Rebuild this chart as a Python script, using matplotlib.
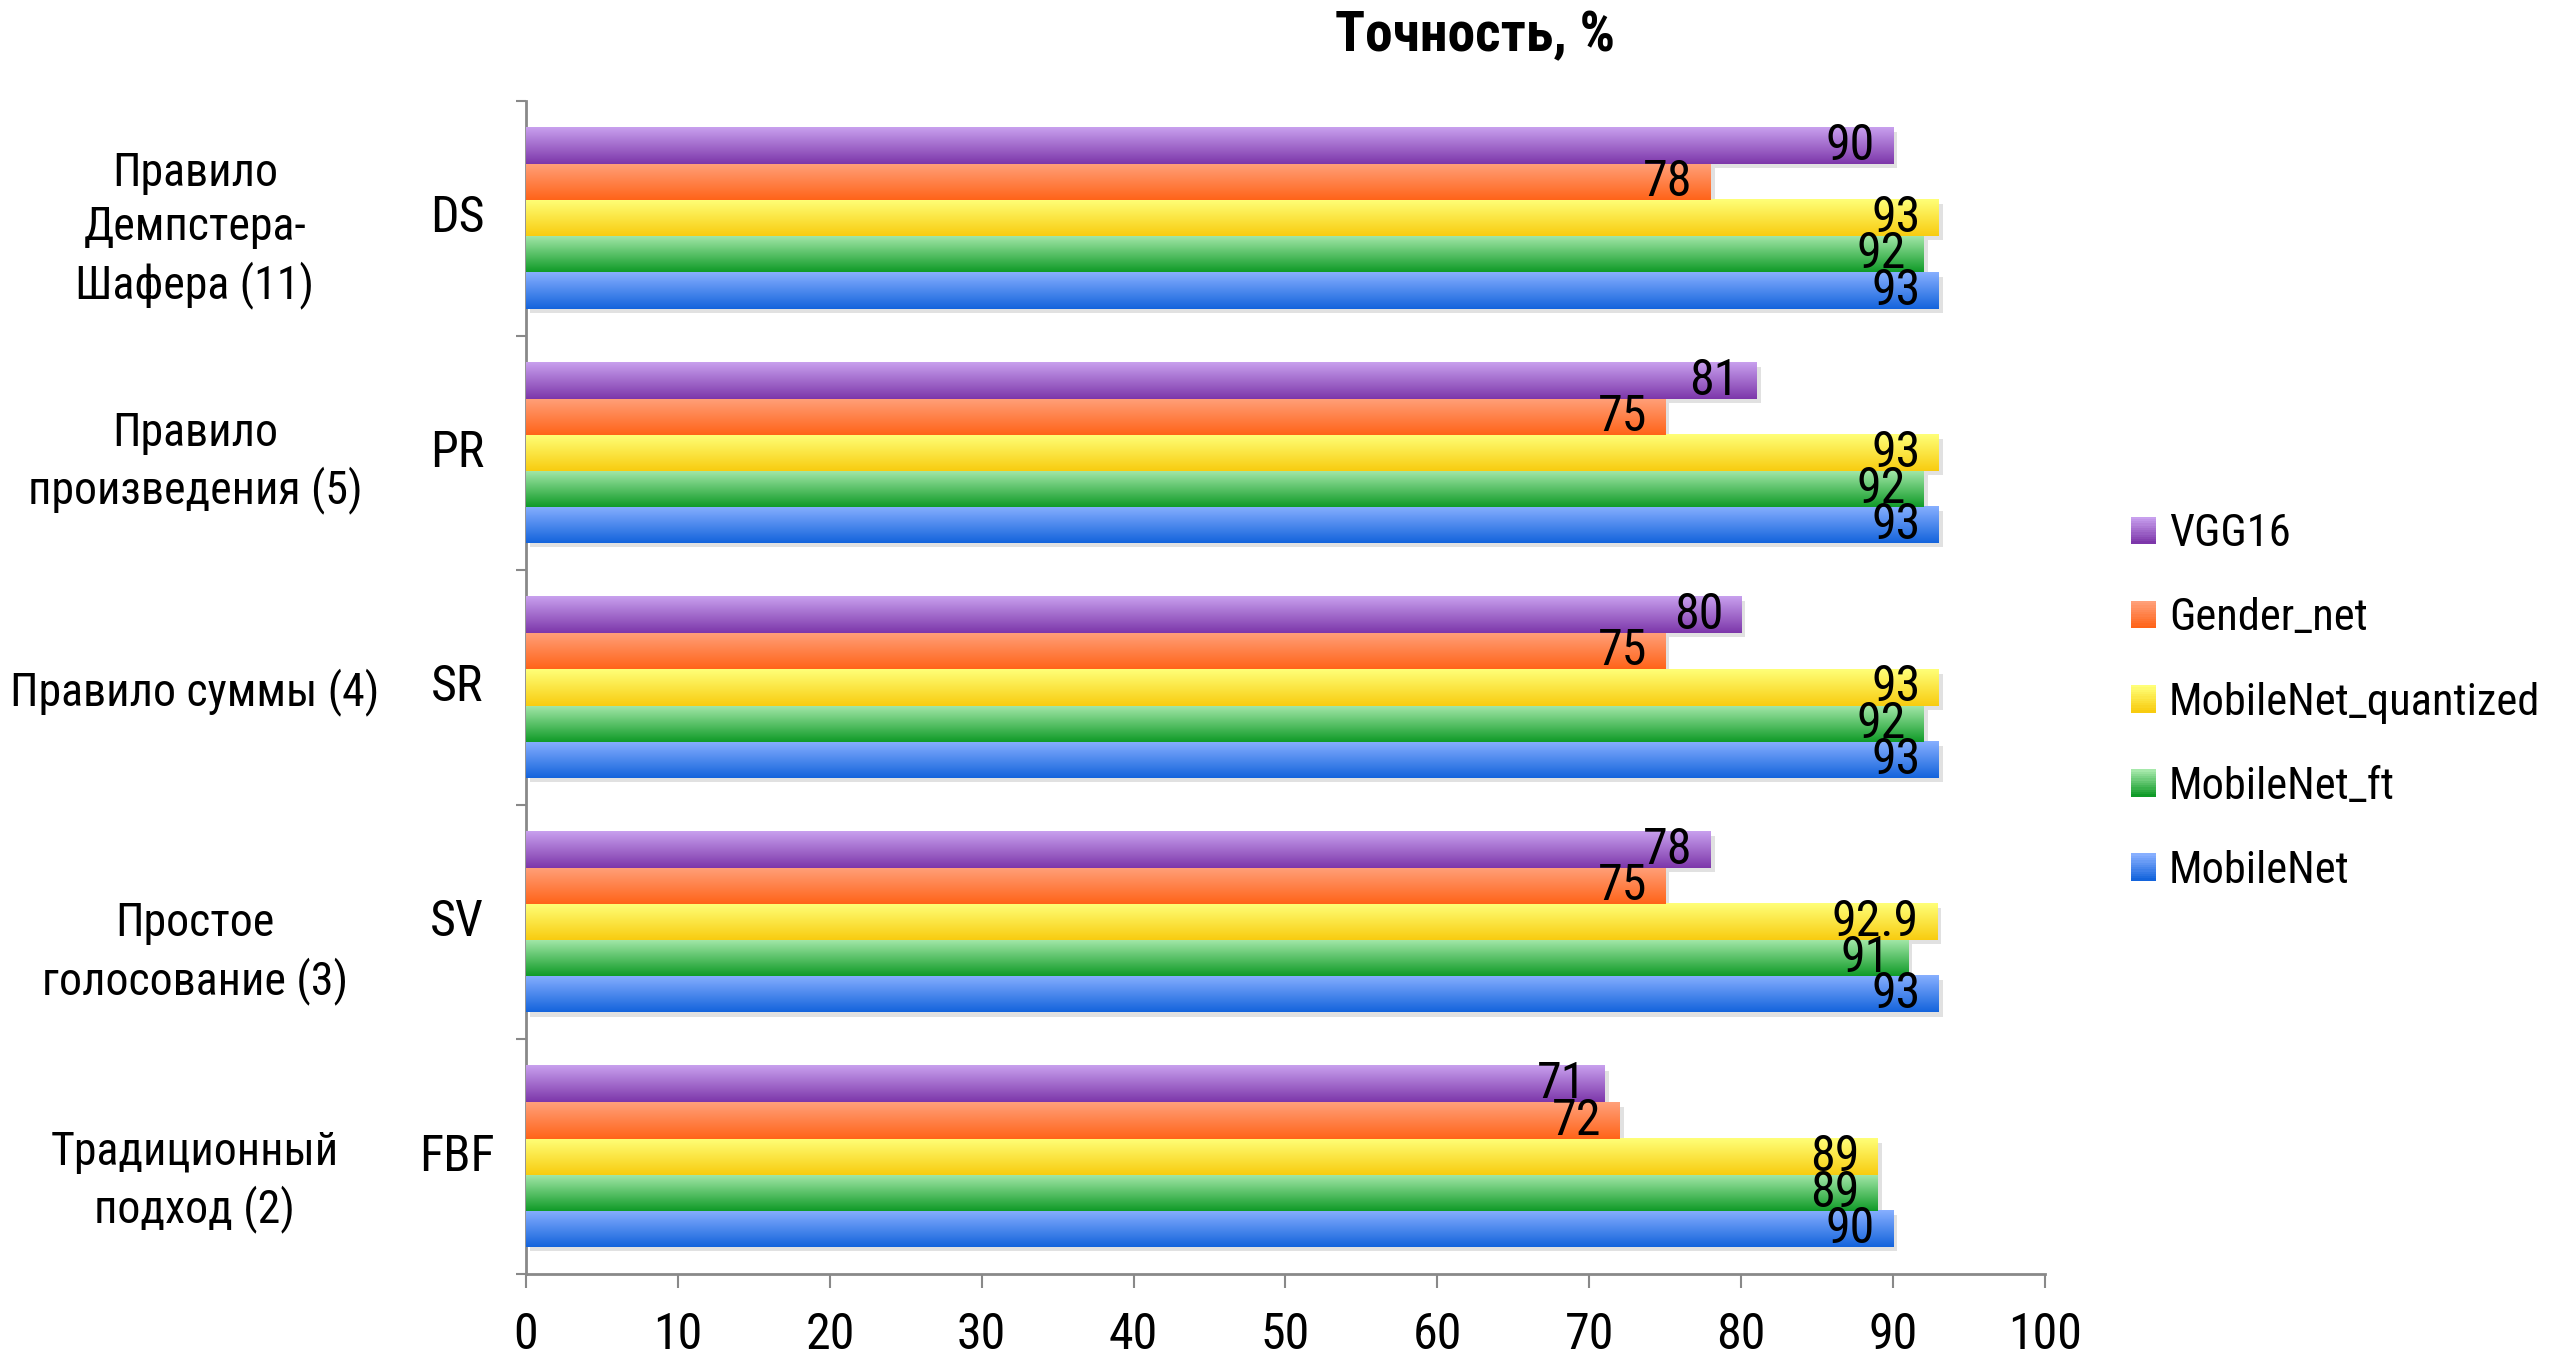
import numpy as np
import matplotlib
matplotlib.use('Agg')
import matplotlib.pyplot as plt
import matplotlib.patheffects as pe
from matplotlib import font_manager
from matplotlib.colors import to_rgb
from matplotlib.patches import Rectangle
from matplotlib.legend_handler import HandlerBase


def tiene_cirilico(path):
    try:
        cmap = font_manager.get_font(path).get_charmap()
    except Exception:
        return False
    return all(ord(c) in cmap for c in 'ТочнстьДемпШафр%_0123456789')


# buscar una fuente estrecha con cirilico (tipo Arial Narrow)
estrechas = {}
for f in font_manager.fontManager.ttflist:
    if ('Narrow' in f.name or 'Condensed' in f.name or f.stretch in ('condensed', 'semi-condensed')) \
            and f.style == 'normal' and tiene_cirilico(f.fname):
        estrechas.setdefault(f.name, set()).add((f.weight, f.stretch))
orden = ['Liberation Sans Narrow', 'Arial Narrow', 'Roboto Condensed', 'Noto Sans Condensed',
         'Open Sans Condensed', 'DejaVu Sans Condensed', 'DejaVu Sans']
elegida = None
for nom in orden + sorted(estrechas):
    if nom in estrechas:
        elegida = nom
        break
if elegida:
    plt.rcParams['font.family'] = [elegida, 'Liberation Sans', 'DejaVu Sans']
    if any(s != 'normal' for w, s in estrechas[elegida]):
        plt.rcParams['font.stretch'] = 'condensed'
    esc = 1.0
else:
    plt.rcParams['font.family'] = ['Liberation Sans', 'DejaVu Sans']
    esc = 0.85

# datos (de arriba hacia abajo en la grafica)
grupos = ['DS', 'PR', 'SR', 'SV', 'FBF']
nombres_grupos = ['Правило\nДемпстера-\nШафера (11)',
                  'Правило\nпроизведения (5)',
                  'Правило суммы (4)',
                  'Простое\nголосование (3)',
                  'Традиционный\nподход (2)']

modelos = ['MobileNet', 'MobileNet_ft', 'MobileNet_quantized', 'Gender_net', 'VGG16']
mobilenet = [93, 93, 93, 93, 90]
mobilenet_ft = [92, 92, 92, 91, 89]
mobilenet_quant = [93, 93, 93, 92.9, 89]
gender_net = [78, 75, 75, 75, 72]
vgg16 = [90, 81, 80, 78, 71]
valores = [mobilenet, mobilenet_ft, mobilenet_quant, gender_net, vgg16]

# colores del degradado (arriba, abajo)
colores = [('#87AFFF', '#1464DC'),
           ('#A5E8AA', '#109B28'),
           ('#FFFF78', '#F8CC10'),
           ('#FFA07A', '#FF6419'),
           ('#C8A0EE', '#7D37AA')]


def degradado(c1, c2, n=64):
    a = np.array(to_rgb(c1))
    b = np.array(to_rgb(c2))
    t = np.linspace(0, 1, n)[:, None]
    return (a * (1 - t) + b * t)[:, None, :]


class HandlerDegradado(HandlerBase):
    def __init__(self, c1, c2):
        super().__init__()
        self.c1 = c1
        self.c2 = c2

    def create_artists(self, legend, orig_handle, xdescent, ydescent,
                       width, height, fontsize, trans):
        arts = []
        n = 12
        col = degradado(self.c1, self.c2, n)[:, 0, :]
        for k in range(n):
            r = Rectangle((-xdescent, -ydescent + height * (n - 1 - k) / n),
                          width, height / n + 0.3, facecolor=col[k],
                          edgecolor='none', transform=trans)
            arts.append(r)
        return arts


fig = plt.figure(figsize=(25.61, 13.55), dpi=100)
ax = fig.add_axes([0.2054, 0.0598, 0.5931, 0.8657])

n_series = len(modelos)
alto = 0.77 / n_series
y_base = np.arange(len(grupos))[::-1]  # DS arriba

for j in range(n_series):
    y = y_base + (j - (n_series - 1) / 2) * alto
    barras = ax.barh(y, valores[j], height=alto, color=colores[j][1],
                     edgecolor='none', zorder=2,
                     path_effects=[pe.SimplePatchShadow(offset=(3, -3), shadow_rgbFace='#888888', alpha=0.25),
                                   pe.Normal()])
    img = degradado(colores[j][0], colores[j][1])
    for b, v in zip(barras, valores[j]):
        x0, y0 = b.get_x(), b.get_y()
        ax.imshow(img, extent=(x0, x0 + b.get_width(), y0, y0 + b.get_height()),
                  origin='upper', aspect='auto', zorder=3, interpolation='bilinear')
        ax.annotate(str(v), (x0 + b.get_width(), y0 + b.get_height() / 2),
                    xytext=(-13, 0), textcoords='offset points',
                    ha='right', va='center', fontsize=36 * esc, zorder=5)

ax.set_xlim(0, 100)
ax.set_ylim(-0.5, len(grupos) - 0.5)
ax.set_aspect('auto')

ax.set_xticks(np.arange(0, 101, 10))
ax.tick_params(axis='x', labelsize=36 * esc, length=10, width=1.5, color='#898989',
               direction='out', pad=17)
ax.set_yticks(np.arange(-0.5, len(grupos), 1.0))
ax.set_yticklabels([])
ax.tick_params(axis='y', length=7, width=1.5, color='#898989', direction='out')

for s in ['top', 'right']:
    ax.spines[s].set_visible(False)
for s in ['left', 'bottom']:
    ax.spines[s].set_color('#898989')
    ax.spines[s].set_linewidth(2)

# etiquetas de dos niveles (las exteriores un poco mas abajo, como en Excel)
bajada = [0.049, 0.042, 0.021, 0.132, 0.104]
for yy, g, nom, d in zip(y_base, grupos, nombres_grupos, bajada):
    ax.text(-0.0454, yy, g, transform=ax.get_yaxis_transform(), ha='center',
            va='center', fontsize=36 * esc)
    ax.text(-0.218, yy - d, nom, transform=ax.get_yaxis_transform(), ha='center',
            va='center', fontsize=33 * esc, linespacing=1.3)

fig.text(0.576, 0.973, 'Точность, %', ha='center', va='center',
         fontsize=40 * esc, fontweight='bold')

# leyenda (VGG16 arriba)
handles = [Rectangle((0, 0), 1, 1) for _ in modelos][::-1]
mapa = {h: HandlerDegradado(*colores[n_series - 1 - k]) for k, h in enumerate(handles)}
fs_ley = 32 * esc
fig.legend(handles, modelos[::-1], handler_map=mapa, loc='center left',
           bbox_to_anchor=(0.832, 0.4814), frameon=False, fontsize=fs_ley,
           handlelength=0.56 * 32 / fs_ley, handleheight=0.56 * 32 / fs_ley,
           handletextpad=0.3 * 32 / fs_ley, labelspacing=0.95 * 32 / fs_ley,
           borderpad=0, borderaxespad=0)

plt.savefig('out.png', dpi=100)
